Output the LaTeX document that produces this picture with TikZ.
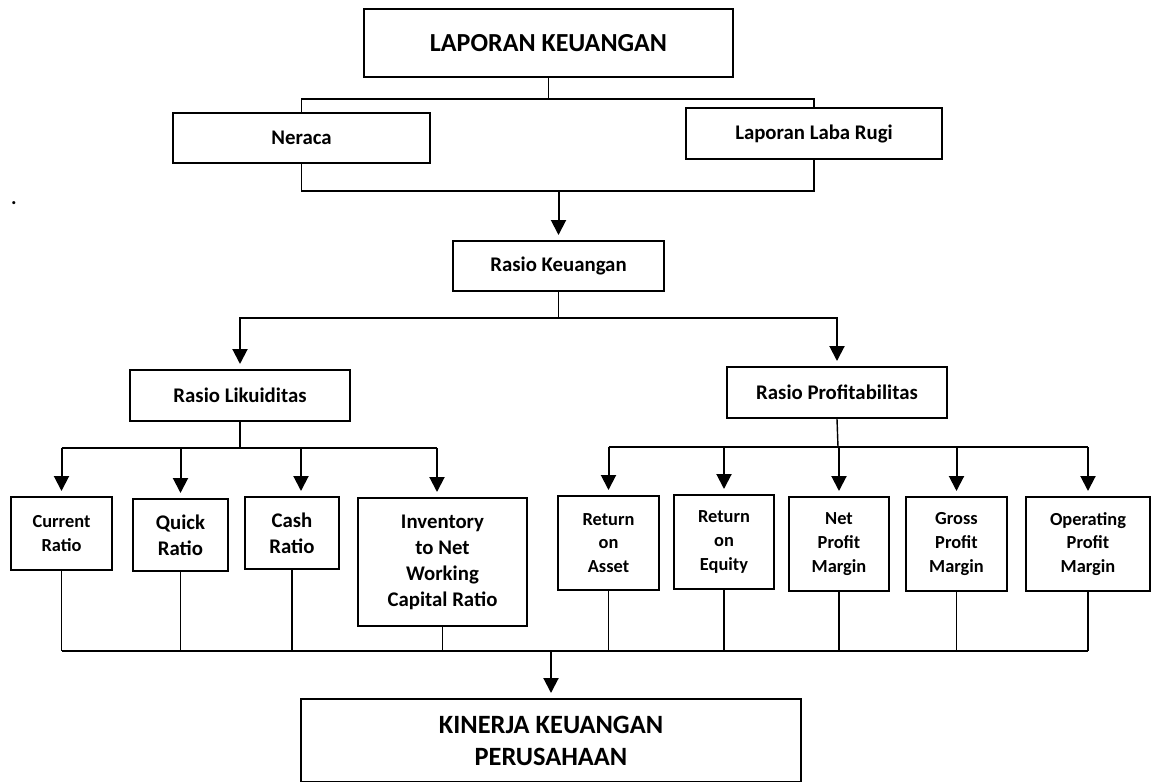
\documentclass[tikz,border=0pt]{standalone}
\usepackage{fontspec}
\setmainfont{Carlito}
\usetikzlibrary{arrows.meta}

\begin{document}
\begin{tikzpicture}[x=0.5pt,y=-0.5pt,
    kotak/.style={draw,line width=1pt,inner sep=0pt,align=center},
    judul/.style={font=\fontsize{13}{16}\selectfont\bfseries},
    sedang/.style={font=\fontsize{10.4}{13}\selectfont\bfseries},
    kecil/.style={font=\fontsize{9.2}{11.8}\selectfont\bfseries},
    garis/.style={line width=0.7pt},
    panah/.style={line width=1pt,-{Triangle[length=7.5pt,width=7.5pt]},shorten >=2.5pt}]
    \useasboundingbox (0,0) rectangle (1152,782);

    % kotak-kotak
    \node[kotak,judul,minimum width=184.5pt,minimum height=34pt] (lap) at (548.5,43) {LAPORAN KEUANGAN};
    \node[kotak,sedang,minimum width=128.5pt,minimum height=25pt] (ner) at (301.5,138) {Neraca};
    \node[kotak,sedang,minimum width=128pt,minimum height=25.5pt] (llr) at (814,133.5) {Laporan Laba Rugi};
    \node[sedang,inner sep=0pt] (titik) at (14,203) {.};
    \node[kotak,sedang,minimum width=105.5pt,minimum height=25pt] (rk) at (558.5,266) {Rasio Keuangan};
    \node[kotak,sedang,minimum width=110pt,minimum height=25.5pt] (rl) at (240,395.5) {Rasio Likuiditas};
    \node[kotak,sedang,minimum width=110pt,minimum height=25.5pt] (rp) at (837,392.5) {Rasio Profitabilitas};

    \node[kotak,kecil,minimum width=50.5pt,minimum height=36.5pt] (cr) at (61.5,533.5) {Current\\Ratio};
    \node[kotak,sedang,minimum width=47.5pt,minimum height=36pt] (qr) at (180.5,535) {Quick\\Ratio};
    \node[kotak,sedang,minimum width=47pt,minimum height=36pt] (cash) at (292,533) {Cash\\Ratio};
    \node[kotak,sedang,minimum width=84.5pt,minimum height=64pt] (inv) at (442.5,562) {Inventory\\to Net\\Working\\Capital Ratio};
    \node[kotak,kecil,minimum width=50.5pt,minimum height=47pt] (roa) at (608.5,543) {Return\\on\\Asset};
    \node[kotak,kecil,minimum width=50pt,minimum height=47pt] (roe) at (724,542) {Return\\on\\Equity};
    \node[kotak,kecil,minimum width=50pt,minimum height=47pt] (npm) at (839,544) {Net\\Profit\\Margin};
    \node[kotak,kecil,minimum width=50.5pt,minimum height=47pt] (gpm) at (956.5,544) {Gross\\Profit\\Margin};
    \node[kotak,kecil,minimum width=62pt,minimum height=47pt] (opm) at (1088,544) {Operating\\Profit\\Margin};

    \node[kotak,font=\fontsize{13.2}{16}\selectfont\bfseries,minimum width=250pt,minimum height=41.5pt] (kin) at (551,740.5) {KINERJA KEUANGAN\\PERUSAHAAN};

    % laporan keuangan ke neraca dan laba rugi
    \coordinate (cabang1) at (550,99);
    \draw[garis] (lap.south) -- (lap.south |- cabang1);
    \draw[garis] (ner.north) |- (cabang1) -| (llr.north);

    % ke rasio keuangan
    \coordinate (cabang2) at (558.5,191);
    \draw[garis] (ner.south) |- (cabang2) -| (llr.south);
    \draw[panah] (cabang2) -- (rk.north);

    % rasio keuangan ke likuiditas dan profitabilitas
    \coordinate (cabang3) at (557,318);
    \draw[garis] (rk.south) -- (rk.south |- cabang3);
    \draw[panah] (rk.south |- cabang3) -| (rl.north);
    \draw[panah] (rk.south |- cabang3) -| (rp.north);

    % rasio likuiditas
    \coordinate (cabang4) at (240,448);
    \coordinate (cashin) at ([xshift=4.5pt]cash.north);
    \coordinate (invin) at ([xshift=-2.75pt]inv.north);
    \draw[garis] (rl.south) -- (cabang4);
    \draw[garis] (cabang4 -| cr.north) -- (cabang4 -| invin);
    \draw[panah] (cabang4 -| cr.north) -- (cr.north);
    \draw[panah] (cabang4 -| qr.north) -- (qr.north);
    \draw[panah] (cabang4 -| cashin) -- (cashin);
    \draw[panah] (cabang4 -| invin) -- (invin);

    % rasio profitabilitas
    \coordinate (cabang5) at (838,447);
    \draw[garis] (rp.south) -- (cabang5);
    \draw[garis] (cabang5 -| roa.north) -- (cabang5 -| opm.north);
    \foreach \n in {roa,roe,npm,gpm,opm}
        \draw[panah] (cabang5 -| \n.north) -- (\n.north);

    % semua rasio ke kinerja keuangan
    \coordinate (cabang6) at (551,651);
    \draw[garis] (cabang6 -| cr.south) -- (cabang6 -| opm.south);
    \foreach \n in {cr,qr,cash,inv,roa,roe,npm,gpm,opm}
        \draw[garis] (\n.south) -- (cabang6 -| \n.south);
    \draw[panah] (cabang6) -- (kin.north);
\end{tikzpicture}
\end{document}
